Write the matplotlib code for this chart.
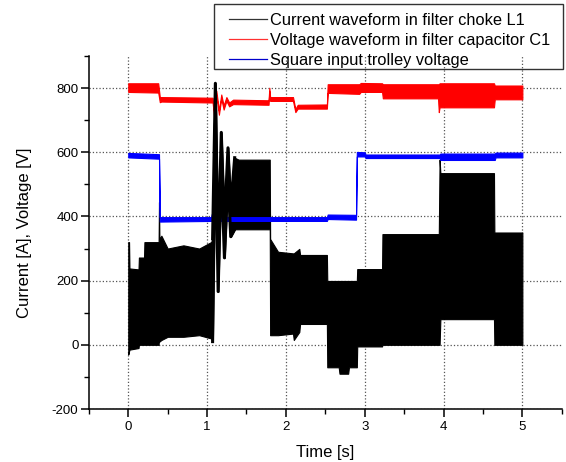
import matplotlib
matplotlib.use("Agg")
import matplotlib.pyplot as plt
import numpy as np
from matplotlib.lines import Line2D
from matplotlib.patches import Rectangle
from matplotlib.ticker import MultipleLocator

plt.rcParams['font.family'] = ['Liberation Sans', 'DejaVu Sans']
plt.rcParams['axes.unicode_minus'] = False

# current in filter choke L1: envelope of the ripple (time, low, high)
cur_t  = [0.000, 0.010, 0.015, 0.130, 0.135, 0.200, 0.205, 0.385, 0.390, 0.395,
          0.420, 0.500, 0.700, 0.900, 1.050, 1.070]
cur_lo = [-30, -20, -15, -10, 0, 0, 0, 0, 20, 10,
          15, 25, 25, 30, 20, 10]
cur_hi = [320, 320, 238, 235, 272, 272, 320, 320, 445, 330,
          340, 300, 310, 300, 320, 330]
# damped oscillation after the voltage step
osc_t  = [1.070, 1.105, 1.140, 1.180, 1.220, 1.265, 1.300, 1.350]
osc_lo = [10, 690, 166, 560, 271, 520, 337, 360]
osc_hi = [330, 815, 270, 662, 370, 614, 430, 583]
cur2_t  = [1.35, 1.40, 1.795, 1.800, 1.900, 2.090, 2.100, 2.170, 2.180, 2.520,
           2.525, 2.670, 2.680, 2.790, 2.800, 2.900, 2.905, 3.220, 3.225, 3.940,
           3.950, 3.960, 4.640, 4.645, 5.000]
cur2_lo = [360, 360, 360, 30, 30, 35, 15, 40, 65, 65,
           -70, -70, -90, -90, -70, -70, -5, -5, 0, 0,
           0, 80, 80, 0, 0]
cur2_hi = [583, 577, 577, 330, 290, 285, 285, 299, 280, 280,
           199, 199, 199, 199, 199, 199, 236, 236, 345, 345,
           577, 535, 535, 350, 350]

# voltage in filter capacitor C1
cap_t  = [0.00, 0.38, 0.40, 0.42, 1.07, 1.10, 1.117, 1.15, 1.18, 1.21, 1.245,
          1.28, 1.33, 1.78, 1.79, 1.80, 2.09, 2.12, 2.15, 2.52, 2.53, 2.93,
          2.95, 3.22, 3.23, 3.93, 3.94, 3.95, 4.64, 4.65, 5.00]
cap_lo = [788, 786, 756, 758, 755, 686, 778, 717, 767, 733, 760,
          743, 750, 748, 790, 760, 760, 725, 736, 736, 785, 782,
          788, 788, 768, 768, 725, 740, 740, 765, 765]
cap_hi = [815, 815, 772, 772, 770, 700, 792, 731, 780, 746, 772,
          755, 764, 762, 801, 772, 772, 735, 748, 749, 812, 812,
          816, 815, 812, 812, 812, 815, 815, 808, 808]

# square input trolley voltage
sq_t  = [0.00, 0.39, 0.40, 1.05, 1.06, 1.08, 2.52, 2.53, 2.89, 2.90,
         3.00, 3.01, 3.95, 3.96, 4.65, 4.66, 5.00]
sq_lo = [584, 580, 384, 386, 392, 386, 386, 392, 390, 587,
         587, 582, 582, 576, 576, 584, 584]
sq_hi = [598, 594, 398, 398, 408, 398, 398, 406, 405, 601,
         600, 593, 593, 596, 596, 599, 599]

fig = plt.figure(figsize=(5.66, 4.62), dpi=100)
ax = fig.add_axes([0.157, 0.1147, 0.8355, 0.7641])

ax.fill_between(cur_t, cur_lo, cur_hi, color='black', lw=0.8)
ax.fill_between(osc_t, osc_lo, osc_hi, color='black', lw=1.2)
ax.plot(osc_t, osc_lo, color='black', lw=2.2)
ax.plot(osc_t, osc_hi, color='black', lw=2.2)
ax.fill_between(cur2_t, cur2_lo, cur2_hi, color='black', lw=0.8)
ax.fill_between(cap_t, cap_lo, cap_hi, color='red', lw=0.8)
ax.fill_between(sq_t, sq_lo, sq_hi, color='blue', lw=0.8)

ax.set_xlim(-0.5, 5.5)
ax.set_ylim(-200, 900)
ax.set_xticks([0, 1, 2, 3, 4, 5])
ax.set_yticks([-200, 0, 200, 400, 600, 800])
ax.xaxis.set_minor_locator(MultipleLocator(0.5))
ax.yaxis.set_minor_locator(MultipleLocator(100))
ax.grid(True, which='major', linestyle=':', color='#555555', lw=0.9)
ax.set_axisbelow(True)
for s in ['top', 'right']:
    ax.spines[s].set_visible(False)
for s in ['left', 'bottom']:
    ax.spines[s].set_linewidth(1.1)
ax.tick_params(which='major', direction='out', length=5.5, width=1.1,
               labelsize=9.5, pad=2)
ax.tick_params(axis='x', which='major', pad=3)
ax.tick_params(which='minor', direction='out', length=3.5, width=1.0)
ax.set_xlabel('Time [s]', fontsize=12, labelpad=9)
ax.set_ylabel('Current [A], Voltage [V]', fontsize=12, labelpad=14)

handles = [Line2D([], [], color='#333333', lw=0.9),
           Line2D([], [], color='#ff3030', lw=0.9),
           Line2D([], [], color='#0000cc', lw=0.9)]
labels = ['Current waveform in filter choke L1',
          'Voltage waveform in filter capacitor C1',
          'Square input trolley voltage']
fig.legend(handles, labels, loc='upper left', bbox_to_anchor=(229 / 566, 1 - 13 / 462),
           fontsize=11.8, frameon=False, borderpad=0, borderaxespad=0,
           handlelength=2.3, handletextpad=0.2, labelspacing=0.3)
fig.patches.append(Rectangle((214 / 566, 1 - 69 / 462), 349 / 566, 65 / 462,
                             transform=fig.transFigure, fill=False,
                             edgecolor='#333333', lw=1.0))

fig.savefig('out.png', dpi=100)
